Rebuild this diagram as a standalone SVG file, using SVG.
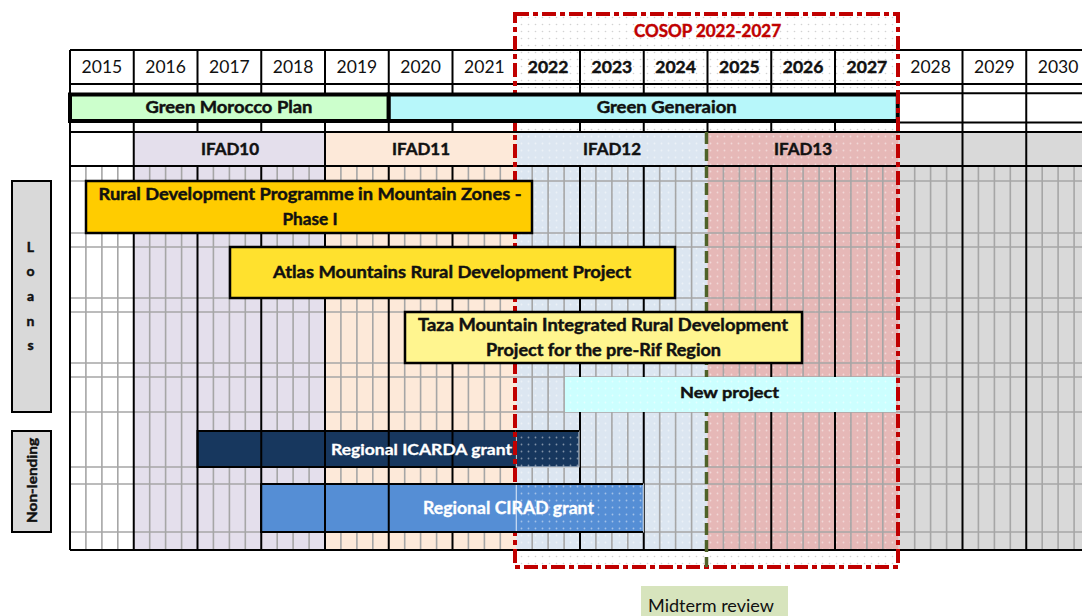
<svg xmlns="http://www.w3.org/2000/svg" width="1082" height="616" viewBox="0 0 1082 616">
<defs>
  <pattern id="dotsG" width="7" height="7" patternUnits="userSpaceOnUse"><rect width="7" height="7" fill="#ffffff"/><circle cx="3.5" cy="3.5" r="0.8" fill="#d2d2d2"/></pattern>
  <pattern id="dotsW" width="7" height="7" patternUnits="userSpaceOnUse"><circle cx="3.5" cy="3.5" r="0.9" fill="#ffffff" fill-opacity="0.45"/></pattern>
  <style>
    .t { font-family: Lato, "Liberation Sans", Arial, sans-serif; fill: #111; text-anchor: middle; }
    .b { font-weight: bold; stroke: #111; stroke-width: 0.45; }
    .yr { font-size: 17.5px; }
    .bar { stroke: #000; stroke-width: 2.5; }
    .blk { stroke: #000; stroke-width: 2; fill: none; }
    .gry { stroke: #a6a6a6; stroke-width: 1.6; fill: none; }
    .wt { fill: #ffffff; stroke: #ffffff; stroke-width: 0.3; }
    .red { fill: #c00000; stroke: #c00000; }
    .cosop-line { fill: none; stroke: #c00000; stroke-width: 4; stroke-dasharray: 14 4 5 4; }
  </style>
</defs>
<rect width="1082" height="616" fill="#ffffff"/>

<g id="cosop-background">
  <rect x="515" y="14" width="383" height="553" fill="url(#dotsG)"/>
</g>

<g id="columns">
  <rect x="133.75" y="132" width="191.25" height="418" fill="#e4dfec"/>
  <rect x="325" y="132" width="191.25" height="418" fill="#fde9d9"/>
  <rect x="516.25" y="132" width="191.25" height="418" fill="#dce6f1"/>
  <rect x="707.5" y="132" width="191.25" height="418" fill="#e6b8b7"/>
  <rect x="898.75" y="132" width="183.25" height="418" fill="#d9d9d9"/>
  <rect x="516.25" y="132" width="382.5" height="418" fill="url(#dotsW)"/>
</g>

<g id="grid">
  <path class="gry" d="M85.9 166V550M101.9 166V550M117.8 166V550M149.7 166V550M165.6 166V550M181.6 166V550M213.4 166V550M229.4 166V550M245.3 166V550M277.2 166V550M293.1 166V550M309.1 166V550M340.9 166V550M356.9 166V550M372.8 166V550M404.7 166V550M420.6 166V550M436.6 166V550M468.4 166V550M484.4 166V550M500.3 166V550M532.2 166V550M548.1 166V550M564.1 166V550M595.9 166V550M611.9 166V550M627.8 166V550M659.7 166V550M675.6 166V550M691.6 166V550M723.4 166V550M739.4 166V550M755.3 166V550M787.2 166V550M803.1 166V550M819.1 166V550M850.9 166V550M866.9 166V550M882.8 166V550M914.7 166V550M930.6 166V550M946.6 166V550M978.4 166V550M994.4 166V550M1010.3 166V550M1042.2 166V550M1058.1 166V550M1074.1 166V550"/>
  <path class="gry" d="M70 181H1082M70 233H1082M70 247H1082M70 298H1082M70 312H1082M70 363H1082M70 377H1082M70 412H1082M70 467H1082M70 484H1082M70 532H1082"/>
</g>

<g id="grant-icarda-solid">
  <rect x="197.5" y="431" width="318.75" height="36" fill="#17375e" stroke="#000" stroke-width="2"/>
</g>
<g id="grant-cirad-solid">
  <rect x="261.25" y="484" width="255" height="48" fill="#558ed5" stroke="#000" stroke-width="2"/>
</g>

<g id="frame">
  <path class="blk" d="M70 50H1082M70 84H1082M898.75 93.3H1082M898.75 122.5H1082M70 132H1082M70 166H1082M70 550H1082"/>
  <path class="blk" d="M70 50V550M133.75 50V550M197.5 50V132M261.25 50V132M325 50V550M388.75 50V132M452.5 50V132M580 50V132M643.75 50V132M707.5 50V132M771.25 50V132M835 50V132M962.5 50V550M1026.25 50V550"/>
  <path class="blk" d="M197.5 166V550M261.25 166V550M388.75 166V550M452.5 166V550M580 166V550M643.75 166V550M771.25 166V550M835 166V550"/>
</g>

<g id="header-years">
  <text class="t yr" x="101.9" y="73">2015</text>
  <text class="t yr" x="165.6" y="73">2016</text>
  <text class="t yr" x="229.4" y="73">2017</text>
  <text class="t yr" x="293.1" y="73">2018</text>
  <text class="t yr" x="356.9" y="73">2019</text>
  <text class="t yr" x="420.6" y="73">2020</text>
  <text class="t yr" x="484.4" y="73">2021</text>
  <text class="t yr b" x="548.1" y="73">2022</text>
  <text class="t yr b" x="611.9" y="73">2023</text>
  <text class="t yr b" x="675.6" y="73">2024</text>
  <text class="t yr b" x="739.4" y="73">2025</text>
  <text class="t yr b" x="803.1" y="73">2026</text>
  <text class="t yr b" x="866.9" y="73">2027</text>
  <text class="t yr" x="930.6" y="73">2028</text>
  <text class="t yr" x="994.4" y="73">2029</text>
  <text class="t yr" x="1058.1" y="73">2030</text>
</g>

<g id="ifad-cycles">
  <text class="t b" x="230" y="154.5" font-size="17" textLength="58" lengthAdjust="spacingAndGlyphs">IFAD10</text>
  <text class="t b" x="421" y="154.5" font-size="17" textLength="58" lengthAdjust="spacingAndGlyphs">IFAD11</text>
  <text class="t b" x="612" y="154.5" font-size="17" textLength="58" lengthAdjust="spacingAndGlyphs">IFAD12</text>
  <text class="t b" x="803" y="154.5" font-size="17" textLength="58" lengthAdjust="spacingAndGlyphs">IFAD13</text>
</g>

<g id="grant-icarda">
  <rect x="516.25" y="431" width="62.75" height="36" fill="#17375e"/>
  <rect x="516.25" y="431" width="62.75" height="36" fill="url(#dotsW)" stroke="#dfe6ef" stroke-width="1"/>
  <path class="blk" d="M516 431H579"/>
  <text class="t b wt" x="421.5" y="455" font-size="16" textLength="181" lengthAdjust="spacingAndGlyphs">Regional ICARDA grant</text>
</g>

<g id="cosop">
  <rect class="cosop-line" x="515" y="14" width="383" height="553"/>
  <text class="t b red" x="707.5" y="36.5" font-size="16.5" textLength="147" lengthAdjust="spacingAndGlyphs">COSOP 2022-2027</text>
</g>

<g id="connectors">
  <line x1="706.5" y1="132" x2="706.5" y2="567" stroke="#4f6228" stroke-width="3.5" stroke-dasharray="12 5"/>
</g>

<g id="green-morocco-plan">
  <rect x="70" y="94.5" width="318.75" height="26.5" fill="#ccffcc" stroke="#000" stroke-width="4"/>
  <text class="t b" x="229" y="112.5" font-size="17" textLength="167" lengthAdjust="spacingAndGlyphs">Green Morocco Plan</text>
</g>
<g id="green-generation">
  <rect x="388.75" y="94.5" width="509" height="26.5" fill="#b7f7fa" stroke="#000" stroke-width="4"/>
  <text class="t b" x="666.7" y="112.5" font-size="17" textLength="140" lengthAdjust="spacingAndGlyphs">Green Generaion</text>
</g>

<g id="grant-cirad">
  <rect x="261.25" y="484" width="382" height="48" fill="#558ed5"/>
  <rect x="516.25" y="484" width="127" height="48" fill="url(#dotsW)" stroke="#e6eef9" stroke-width="1"/>
  <path class="blk" d="M261.25 484V532H643M261.25 484H643M325 484V532M388.75 484V532"/>
  <text class="t b wt" x="508.5" y="513.5" font-size="16.5" textLength="171" lengthAdjust="spacingAndGlyphs">Regional CIRAD grant</text>
</g>

<g id="new-project">
  <rect x="565" y="377" width="331" height="35" fill="#ccffff"/>
  <rect x="565" y="377" width="331" height="35" fill="url(#dotsW)"/>
  <text class="t b" x="729.5" y="397.5" font-size="16" textLength="99" lengthAdjust="spacingAndGlyphs">New project</text>
</g>

<g id="rural-development-programme">
  <rect class="bar" x="86" y="181" width="446" height="52" fill="#ffcc00"/>
  <text class="t b" x="310" y="200" font-size="17" textLength="423" lengthAdjust="spacingAndGlyphs">Rural Development Programme in Mountain Zones -</text>
  <text class="t b" x="310" y="224.5" font-size="17" textLength="55" lengthAdjust="spacingAndGlyphs">Phase I</text>
</g>
<g id="atlas-project">
  <rect class="bar" x="230" y="247" width="445" height="51" fill="#ffe12e"/>
  <text class="t b" x="452" y="277.5" font-size="17" textLength="358" lengthAdjust="spacingAndGlyphs">Atlas Mountains Rural Development Project</text>
</g>
<g id="taza-project">
  <rect class="bar" x="405" y="312" width="397" height="51" fill="#fff58f"/>
  <text class="t b" x="603" y="331" font-size="16.5" textLength="370" lengthAdjust="spacingAndGlyphs">Taza Mountain Integrated Rural Development</text>
  <text class="t b" x="603.5" y="355.5" font-size="16.5" textLength="235" lengthAdjust="spacingAndGlyphs">Project for the pre-Rif Region</text>
</g>

<g id="cosop-right-edge">
  <line class="cosop-line" x1="898" y1="14" x2="898" y2="567" stroke-dashoffset="5"/>
</g>

<g id="loans-label">
  <rect x="12" y="181" width="39" height="231" fill="#d9d9d9" stroke="#000" stroke-width="2"/>
  <text class="t b" x="30.5" y="252" font-size="14">L</text>
  <text class="t b" x="30.5" y="276" font-size="14">o</text>
  <text class="t b" x="30.5" y="300.5" font-size="14">a</text>
  <text class="t b" x="30.5" y="325.5" font-size="14">n</text>
  <text class="t b" x="30.5" y="350" font-size="14">s</text>
</g>
<g id="non-lending-label">
  <rect x="12" y="431" width="39" height="101" fill="#d9d9d9" stroke="#000" stroke-width="2"/>
  <text class="t b" transform="translate(36.5 480.5) rotate(-90)" font-size="13.5" textLength="85" lengthAdjust="spacingAndGlyphs">Non-lending</text>
</g>

<g id="midterm-review">
  <rect x="641" y="586" width="147" height="30" fill="#d7e4bd"/>
  <text class="t" x="711" y="611.5" font-size="17.5" textLength="126" lengthAdjust="spacingAndGlyphs">Midterm review</text>
</g>
</svg>
